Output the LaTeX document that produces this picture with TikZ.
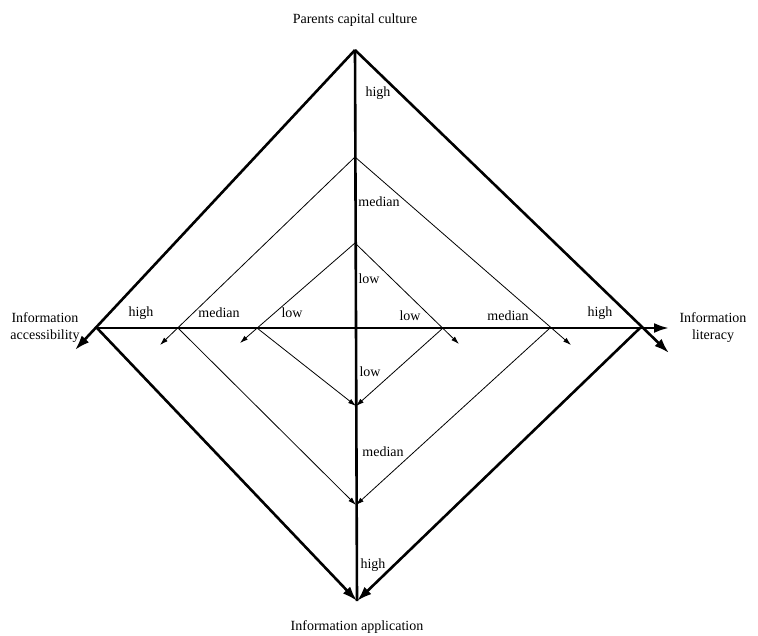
\documentclass[tikz,border=0pt]{standalone}
\usepackage{fontspec}
\setmainfont{Liberation Serif}
\usetikzlibrary{arrows.meta}
\begin{document}
\begin{tikzpicture}[x=1pt,y=-1pt,
  thickln/.style={line width=2.6pt},
  thinln/.style={line width=0.8pt},
  bigarr/.style={thickln,-{Latex[length=15pt,width=10pt]}},
  smallarr/.style={thinln,-{Latex[length=8pt,width=5pt]}},
  lbl/.style={font=\fontsize{14}{17}\selectfont, inner sep=1pt},
  axlbl/.style={font=\fontsize{14}{17}\selectfont, align=center, inner sep=1pt}]
\useasboundingbox (0,0) rectangle (758,635);
% outer
\coordinate (T) at (355,50);
\coordinate (L) at (97,328);
\coordinate (R) at (640,328);
\coordinate (B) at (357,601);
\coordinate (Lx) at (75,350);
\coordinate (Rx) at (669,353);
\coordinate (Hx) at (669,328);
% median
\coordinate (MT) at (355,157);
\coordinate (ML) at (178,328);
\coordinate (MR) at (550,328);
\coordinate (MB) at (356,505);
\coordinate (MLx) at (160,345);
\coordinate (MRx) at (571,345);
% low
\coordinate (LT) at (355,243);
\coordinate (LL) at (257,328);
\coordinate (LR) at (443,328);
\coordinate (LB) at (356,406);
\coordinate (LLx) at (240,343);
\coordinate (LRx) at (459,344);
% thick
\draw[thickln] (T) -- (B);
\draw[bigarr] (L) -- (Hx);
\draw[bigarr] (T) -- (Lx);
\draw[bigarr] (T) -- (Rx);
\draw[bigarr] (L) -- (B);
\draw[bigarr] (R) -- (B);
% thin
\draw[smallarr] (MT) -- (MLx);
\draw[smallarr] (MT) -- (MRx);
\draw[smallarr] (ML) -- (MB);
\draw[smallarr] (MR) -- (MB);
\draw[smallarr] (LT) -- (LLx);
\draw[smallarr] (LT) -- (LRx);
\draw[smallarr] (LL) -- (LB);
\draw[smallarr] (LR) -- (LB);
% labels
\node[lbl] (h1) at (141,313) {high};
\node[lbl] (m1) at (219,313) {median};
\node[lbl] (l1) at (292,313) {low};
\node[lbl] (l2) at (410,316) {low};
\node[lbl] (m2) at (508,316) {median};
\node[lbl] (h2) at (600,313) {high};
\node[lbl] (vh1) at (378,93) {high};
\node[lbl] (vm1) at (379,202) {median};
\node[lbl] (vl1) at (369,279) {low};
\node[lbl] (vl2) at (370,372) {low};
\node[lbl] (vm2) at (383,452) {median};
\node[lbl] (vh2) at (373,565) {high};
\node[axlbl] (top) at (355,20) {Parents capital culture};
\node[axlbl] (left) at (45,328) {Information\\accessibility};
\node[axlbl] (right) at (713,328) {Information\\literacy};
\node[axlbl] (bot) at (357,627) {Information application};
\end{tikzpicture}
\end{document}
